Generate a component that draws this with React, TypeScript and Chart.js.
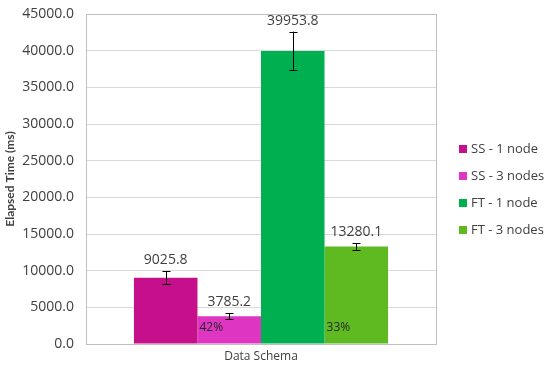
import React, { useEffect, useRef } from "react";
import { Chart, registerables } from "chart.js";

Chart.register(...registerables);

const categories = ["Data Schema"];
const seriesNames = ["SS - 1 node", "SS - 3 nodes", "FT - 1 node", "FT - 3 nodes"];
const seriesValues = [9025.8, 3785.2, 39953.8, 13280.1];
const seriesErrors = [900, 390, 2650, 450];
const seriesColors = ["#C60F8A", "#DE35C2", "#00B050", "#5FBA22"];
const percentLabels = ["", "42%", "", "33%"];
const yMin = 0;
const yMax = 45000;
const yStep = 5000;

const FONT = "'Open Sans', 'Liberation Sans', sans-serif";
const TEXT = "#404040";

const overlayPlugin = {
  id: "overlay",
  afterDatasetsDraw(chart: any) {
    const ctx = chart.ctx;
    const y = chart.scales.y;
    const a = chart.chartArea;
    ctx.save();
    ctx.strokeStyle = "#BFBFBF";
    ctx.lineWidth = 1;
    ctx.strokeRect(Math.round(a.left) + 0.5, Math.round(a.top) + 0.5, Math.round(a.right - a.left), Math.round(a.bottom - a.top));
    seriesValues.forEach((v, i) => {
      const bar = chart.getDatasetMeta(i).data[0];
      if (!bar) return;
      const x = Math.round(bar.x) + 0.5;
      const yTop = y.getPixelForValue(v + seriesErrors[i]);
      const yBot = y.getPixelForValue(v - seriesErrors[i]);
      ctx.strokeStyle = "#000000";
      ctx.lineWidth = 1;
      ctx.beginPath();
      ctx.moveTo(x, yTop);
      ctx.lineTo(x, yBot);
      ctx.moveTo(x - 4, Math.round(yTop) + 0.5);
      ctx.lineTo(x + 4, Math.round(yTop) + 0.5);
      ctx.moveTo(x - 4, Math.round(yBot) + 0.5);
      ctx.lineTo(x + 4, Math.round(yBot) + 0.5);
      ctx.stroke();
      ctx.fillStyle = TEXT;
      ctx.font = `14px ${FONT}`;
      ctx.textAlign = "center";
      ctx.textBaseline = "bottom";
      ctx.fillText(v.toFixed(1), bar.x, yTop - 4);
      if (percentLabels[i]) {
        ctx.fillStyle = "#262626";
        ctx.font = `12px ${FONT}`;
        ctx.textAlign = "left";
        ctx.textBaseline = "middle";
        ctx.fillText(percentLabels[i], bar.x - bar.width / 2 + 2, y.getPixelForValue(0) - 16);
      }
    });
    const lx = a.right + 23;
    const ly0 = 149;
    const gap = 27;
    seriesNames.forEach((n, i) => {
      const cy = ly0 + i * gap;
      ctx.fillStyle = seriesColors[i];
      ctx.fillRect(lx, cy - 4, 8, 8);
      ctx.fillStyle = TEXT;
      ctx.font = `13px ${FONT}`;
      ctx.textAlign = "left";
      ctx.textBaseline = "middle";
      ctx.fillText(n, lx + 12, cy);
    });
    ctx.restore();
  },
};

export default function App() {
  const ref = useRef<HTMLCanvasElement>(null);
  useEffect(() => {
    document.body.style.margin = "0";
    const chart = new Chart(ref.current!, {
      type: "bar",
      data: {
        labels: categories,
        datasets: seriesNames.map((n, i) => ({
          label: n,
          data: [seriesValues[i]],
          backgroundColor: seriesColors[i],
          borderWidth: 0,
          categoryPercentage: 0.726,
          barPercentage: 1,
        })),
      },
      options: {
        animation: false,
        responsive: false,
        maintainAspectRatio: false,
        layout: { padding: { top: 14, right: 114, left: 0, bottom: 0 } },
        plugins: { legend: { display: false }, tooltip: { enabled: false } },
        scales: {
          x: {
            grid: { display: false, drawTicks: false },
            border: { display: false },
            ticks: { color: TEXT, font: { family: FONT, size: 12 }, padding: 5 },
            afterFit: (s: any) => { s.height = 22; },
          },
          y: {
            min: yMin,
            max: yMax,
            ticks: {
              stepSize: yStep,
              color: TEXT,
              font: { family: FONT, size: 14 },
              padding: 3,
              callback: (v: any) => Number(v).toFixed(1),
            },
            grid: { color: "#D9D9D9", drawTicks: true, tickLength: 9, tickColor: "rgba(0,0,0,0)" },
            border: { display: false },
            title: {
              display: true,
              text: "Elapsed Time (ms)",
              color: TEXT,
              font: { family: "Lato, 'Open Sans', sans-serif", size: 12, weight: "bold" },
              padding: { top: 3, bottom: 0 },
            },
            afterFit: (s: any) => { s.width = 86; },
          },
        },
      },
      plugins: [overlayPlugin],
    });
    return () => chart.destroy();
  }, []);
  return (
    <div style={{ width: 550, height: 366 }}>
      <canvas ref={ref} width={550} height={366} style={{ display: "block" }} />
    </div>
  );
}
